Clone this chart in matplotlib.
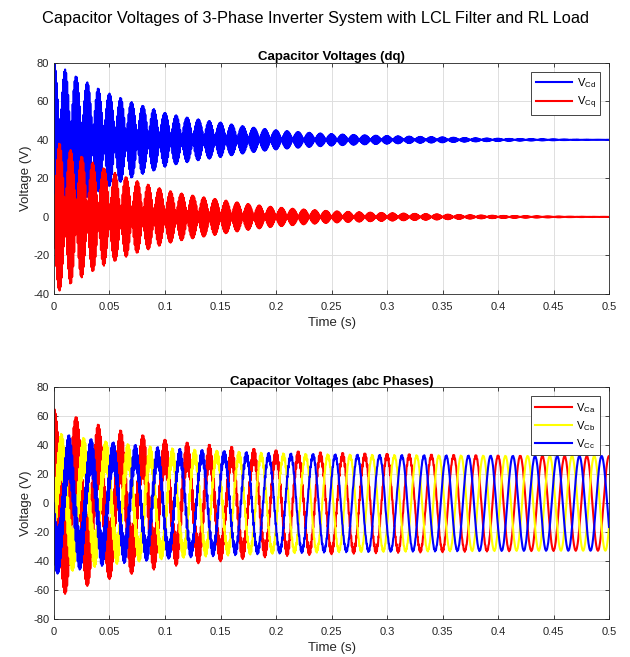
import matplotlib
matplotlib.use('Agg')
import matplotlib.pyplot as plt
import numpy as np

# values
vd_ref = 40.0          # steady d-axis capacitor voltage (V)
f_grid = 50.0          # grid frequency (Hz)
f_res = 1100.0         # LCL resonance ripple frequency (Hz), fills the lobes
k_abc = np.sqrt(2.0/3.0)   # abc amplitude is ~32.7 V for vd = 40 V

# peak of the resonance envelope (blue lobe top minus 40 V) read at these times
env_t = [0, 0.01, 0.02, 0.03, 0.04, 0.05, 0.06, 0.07, 0.08, 0.09, 0.1,
         0.12, 0.15, 0.2, 0.25, 0.3, 0.35, 0.4, 0.45, 0.5]
env_amp = [40, 36.5, 33, 29.8, 26.7, 24, 21.8, 19.6, 17.7, 16, 14,
           11.6, 9, 5, 3.0, 2.0, 1.3, 0.6, 0.25, 0.05]

dq_labels = ['V$_{\\mathregular{Cd}}$', 'V$_{\\mathregular{Cq}}$']
abc_labels = ['V$_{\\mathregular{Ca}}$', 'V$_{\\mathregular{Cb}}$', 'V$_{\\mathregular{Cc}}$']
xticks = [0, 0.05, 0.1, 0.15, 0.2, 0.25, 0.3, 0.35, 0.4, 0.45, 0.5]
xtick_labels = ['0', '0.05', '0.1', '0.15', '0.2', '0.25', '0.3', '0.35', '0.4', '0.45', '0.5']

# signals
t = np.arange(0, 0.5 + 1e-6, 1e-5)
A = np.exp(np.interp(t, env_t, np.log(env_amp)))
theta = 2*np.pi*f_grid*t
ripple = np.cos(2*np.pi*f_res*t)
vd = vd_ref - A*np.cos(theta)*ripple
vq = A*np.sin(theta)*ripple
va = k_abc*(vd*np.cos(theta) - vq*np.sin(theta))
vb = k_abc*(vd*np.cos(theta - 2*np.pi/3) - vq*np.sin(theta - 2*np.pi/3))
vc = k_abc*(vd*np.cos(theta + 2*np.pi/3) - vq*np.sin(theta + 2*np.pi/3))

plt.rcParams['font.family'] = ['Liberation Sans', 'DejaVu Sans']
plt.rcParams['mathtext.fontset'] = 'custom'
plt.rcParams['mathtext.rm'] = 'Liberation Sans'
plt.rcParams['axes.unicode_minus'] = False
dark = '#262626'

fig = plt.figure(figsize=(6.3, 6.57), dpi=100)
fig.suptitle('Capacitor Voltages of 3-Phase Inverter System with LCL Filter and RL Load',
             fontsize=11.8, y=0.983)

ax1 = fig.add_axes([0.0857, 0.5525, 0.881, 0.352])
ax2 = fig.add_axes([0.0857, 0.0574, 0.881, 0.353])

ax1.plot(t, vd, color='blue', lw=1.5, label=dq_labels[0])
ax1.plot(t, vq, color='red', lw=1.5, label=dq_labels[1])
ax1.set_ylim(-40, 80)
ax1.set_yticks(range(-40, 81, 20))
ax1.set_title('Capacitor Voltages (dq)', fontsize=9.5, fontweight='bold', pad=2)

ax2.plot(t, va, color='red', lw=1.5, label=abc_labels[0])
ax2.plot(t, vb, color='yellow', lw=1.5, label=abc_labels[1])
ax2.plot(t, vc, color='blue', lw=1.5, label=abc_labels[2])
ax2.set_ylim(-80, 80)
ax2.set_yticks(range(-80, 81, 20))
ax2.set_title('Capacitor Voltages (abc Phases)', fontsize=9.5, fontweight='bold', pad=2)

for ax in (ax1, ax2):
    ax.set_xlim(0, 0.5)
    ax.set_xticks(xticks)
    ax.set_xticklabels(xtick_labels)
    ax.set_xlabel('Time (s)', fontsize=9.5, color=dark, labelpad=4)
    ax.set_ylabel('Voltage (V)', fontsize=9.5, color=dark, labelpad=1)
    ax.grid(True, color='#dedede', lw=0.7)
    ax.set_axisbelow(True)
    ax.tick_params(direction='in', top=True, right=True, labelsize=8,
                   colors=dark, length=3, width=0.6)
    ax.tick_params(axis='x', pad=5.5)
    ax.tick_params(axis='y', pad=3.5)
    for s in ax.spines.values():
        s.set_color(dark)
        s.set_linewidth(0.6)
    leg = ax.legend(loc='upper right', fontsize=8, handlelength=3.3, fancybox=False,
                    edgecolor=dark, framealpha=1, borderaxespad=0.8,
                    labelspacing=0.4, handletextpad=0.4, borderpad=0.4)
    leg.get_frame().set_linewidth(0.6)

plt.savefig('out.png', dpi=100)
